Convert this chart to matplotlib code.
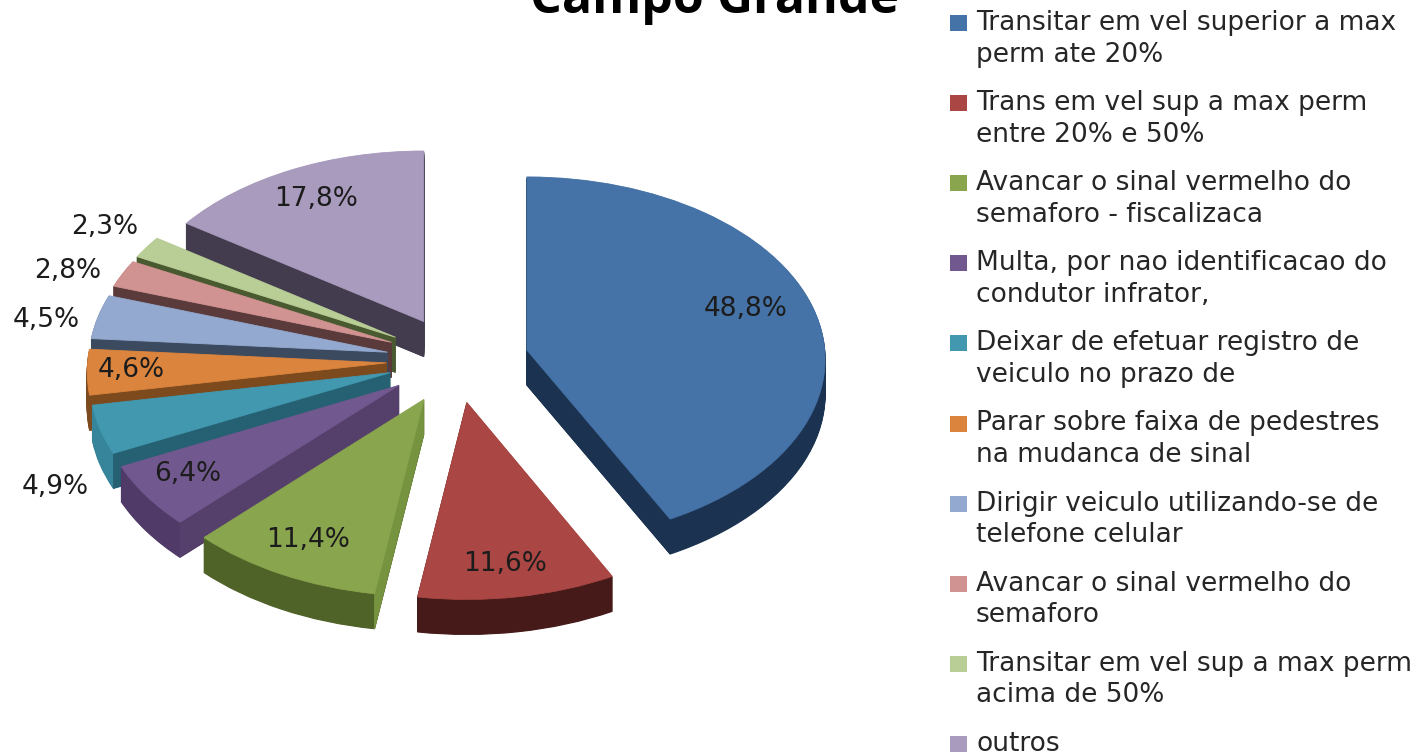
import numpy as np
import matplotlib
matplotlib.use("Agg")
import matplotlib.pyplot as plt
from matplotlib.patches import Rectangle, PathPatch, Polygon
from matplotlib.path import Path

W, H = 1418, 755
TITLE = "Campo Grande"
CATEGORIES = [
    "Transitar em vel superior a max\nperm ate 20%",
    "Trans em vel sup a max perm\nentre 20% e 50%",
    "Avancar o sinal vermelho do\nsemaforo - fiscalizaca",
    "Multa, por nao identificacao do\ncondutor infrator,",
    "Deixar de efetuar registro de\nveiculo no prazo de",
    "Parar sobre faixa de pedestres\nna mudanca de sinal",
    "Dirigir veiculo utilizando-se de\ntelefone celular",
    "Avancar o sinal vermelho do\nsemaforo",
    "Transitar em vel sup a max perm\nacima de 50%",
    "outros",
]
VALUES = [48.8, 11.6, 11.4, 6.4, 4.9, 4.6, 4.5, 2.8, 2.3, 17.8]
VALUE_LABELS = ["48,8%", "11,6%", "11,4%", "6,4%", "4,9%", "4,6%", "4,5%", "2,8%", "2,3%", "17,8%"]

# styling / layout
TOP = ["#4572a7", "#aa4643", "#89a54e", "#71588f", "#4198af", "#db843d", "#93a9cf", "#d19392", "#b9cd96", "#a99bbd"]
RIM = ["#1b3350", "#451a18", "#4f6228", "#4f3a68", "#36859a", "#7d4a1e", "#3c4a60", "#5a3a3a", "#4a5a30", "#423c4e"]
RADIAL = ["#1b3350", "#451a18", "#76933f", "#553f6b", "#256172", "#7d4a1e", "#3c4a60", "#5a3a3a", "#4a5a30", "#423c4e"]
EXPLODE = [0.30, 0.31, 0.27, 0.19, 0.19, 0.20, 0.19, 0.18, 0.17, 0.16]
NUDGE_PX = [(-5, 11), (7, -6), (15, 3), (0, 13), (-1, 10), (1, 9), (-2, 7), (-4, 3), (-6, 1), (1, -5)]
DRAW_RANK = [7, 9, 8, 6, 5, 4, 3, 2, 1, 0]
LABEL_PX = [(746, 309), (505, 564), (308, 540), (188, 474), (55, 487), (131, 370), (46, 320), (68, 271), (105, 227), (316, 199)]
CX, CY, RX, RY, DEPTH, PERSP = 445, 352, 298, 182, 35, 0.05

fig = plt.figure(figsize=(W / 100, H / 100), dpi=100, facecolor="white")
ax = fig.add_axes([0, 0, 1, 1])


def warp(v, x0):
    w = 1 + PERSP * v[:, 1]
    return np.column_stack([x0 + (v[:, 0] - x0) / w, v[:, 1] / w])


wedges, _ = ax.pie(VALUES, explode=EXPLODE, colors=TOP, startangle=90, counterclock=False, radius=1.0, frame=True)
geoms = [(w.center, w.r, w.theta1, w.theta2) for w in wedges]
paths = [w.get_path().transformed(w.get_patch_transform()) for w in wedges]
for w in wedges:
    w.remove()

for i, (path, (c, r, t1, t2)) in enumerate(zip(paths, geoms)):
    shift = np.array([NUDGE_PX[i][0] / RX, -NUDGE_PX[i][1] / RY])
    z = DRAW_RANK[i] * 10
    x0 = c[0] + shift[0]
    verts = warp(path.vertices + shift, x0)
    codes = path.codes
    for k in range(DEPTH, 0, -1):
        ax.add_patch(PathPatch(Path(verts - [0, k / RY], codes), facecolor=RIM[i], edgecolor=RIM[i], lw=0.8, zorder=z + 1))
    # radial faces that look towards the viewer
    apex = warp((np.array(c) + shift)[None, :], x0)[0]
    mid = np.deg2rad((t1 + t2) / 2)
    inner = warp((np.array(c) + shift + 0.5 * r * np.array([np.cos(mid), np.sin(mid)]))[None, :], x0)[0]
    for t in (t1, t2):
        a = np.deg2rad(t)
        tip = warp((np.array(c) + shift + r * np.array([np.cos(a), np.sin(a)]))[None, :], x0)[0]
        e = tip - apex
        side_inner = e[0] * (inner - apex)[1] - e[1] * (inner - apex)[0]
        side_down = e[0] * (-1.0) - e[1] * 0.0
        if side_inner * side_down < 0:
            d = np.array([0, DEPTH / RY])
            ax.add_patch(Polygon([apex, tip, tip - d, apex - d], closed=True, facecolor=RADIAL[i],
                                 edgecolor=RADIAL[i], lw=0.6, zorder=z + 2))
    ax.add_patch(PathPatch(Path(verts, codes), facecolor=TOP[i], edgecolor=TOP[i], lw=0.6, zorder=z + 3))

ax.set_aspect("auto")
ax.set_xlim(-CX / RX, (W - CX) / RX)
ax.set_ylim(-(H - CY) / RY, CY / RY)
ax.axis("off")


def text_px(x, y, s, **kw):
    return fig.text(x / W, 1 - y / H, s, **kw)


for (x, y), s in zip(LABEL_PX, VALUE_LABELS):
    text_px(x, y, s, ha="center", va="center", fontsize=19, color="#1c1c1c",
            family="DejaVu Sans", zorder=200)

text_px(715, 13, TITLE, ha="center", va="baseline", fontsize=36, fontweight="bold",
        family="Open Sans", color="black")

for i, label in enumerate(CATEGORIES):
    y = 23 + 80.1 * i
    fig.add_artist(Rectangle((950 / W, 1 - (y + 8) / H), 17 / W, 16 / H, transform=fig.transFigure,
                             facecolor=TOP[i], edgecolor="none"))
    for j, line in enumerate(label.split("\n")):
        text_px(976, y + 31.5 * j, line, ha="left", va="center", fontsize=19, color="#262626",
                family="DejaVu Sans")

fig.savefig("out.png", dpi=100, facecolor="white")
